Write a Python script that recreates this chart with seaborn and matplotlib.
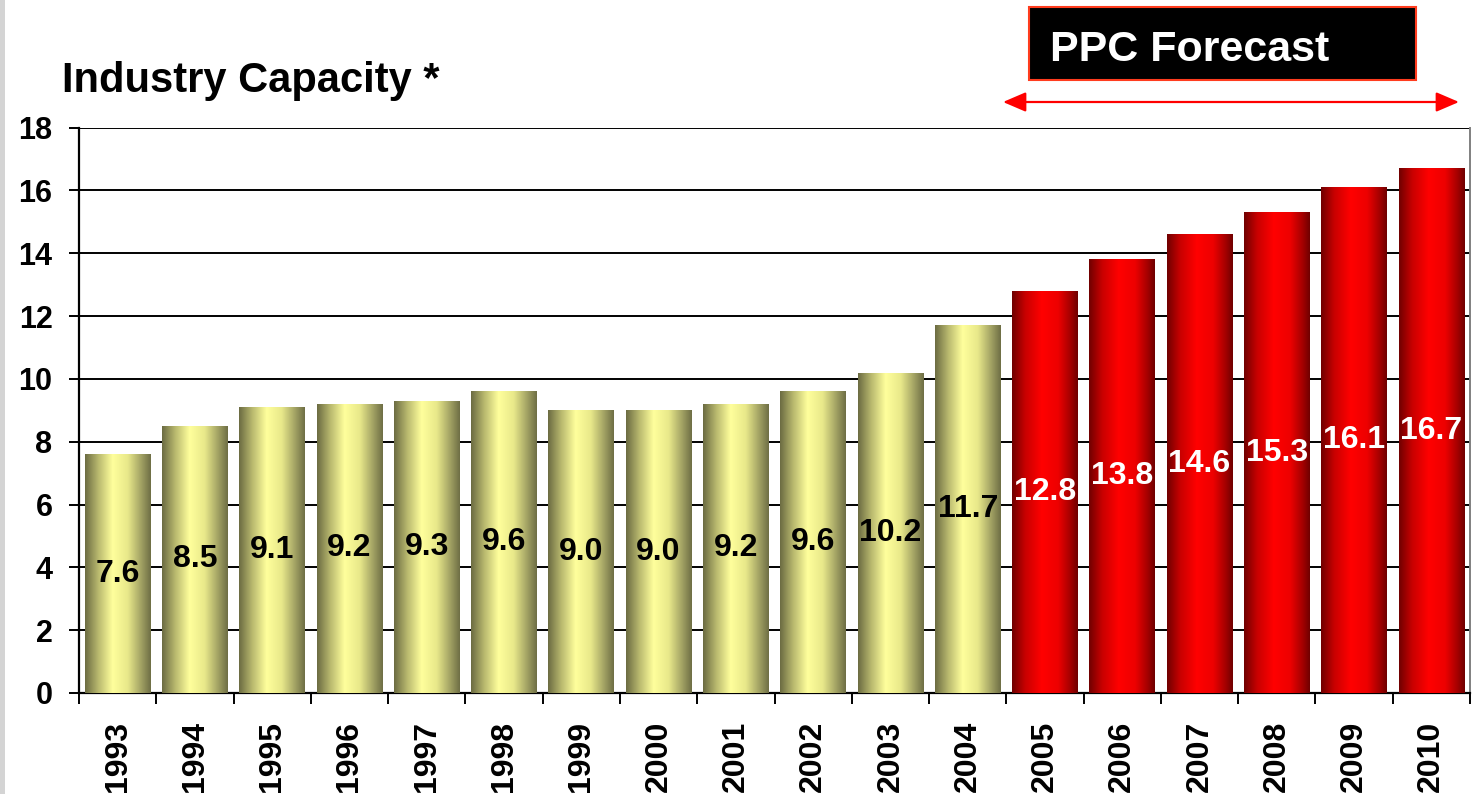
import matplotlib.pyplot as plt
import matplotlib.patches as mpatches
from matplotlib.colors import LinearSegmentedColormap
import numpy as np
import pandas as pd
import seaborn as sns

plt.switch_backend("Agg")
sns.set_theme(style="white")
plt.rcParams["font.family"] = ["Liberation Sans", "DejaVu Sans"]
plt.rcParams["font.weight"] = "bold"
plt.rcParams["text.color"] = "black"
plt.rcParams["xtick.color"] = "black"
plt.rcParams["ytick.color"] = "black"

years = [str(y) for y in range(1993, 2011)]
capacity = [7.6, 8.5, 9.1, 9.2, 9.3, 9.6, 9.0, 9.0, 9.2, 9.6, 10.2, 11.7,
            12.8, 13.8, 14.6, 15.3, 16.1, 16.7]
period = ["Actual"] * 12 + ["Forecast"] * 6
y_ticks = [0, 2, 4, 6, 8, 10, 12, 14, 16, 18]

df = pd.DataFrame({"year": years, "capacity": capacity, "period": period})

W, H = 1482, 794
fig = plt.figure(figsize=(W / 100, H / 100), dpi=100)
ax = fig.add_axes([79 / W, 1 - 693 / H, (1470 - 79) / W, (693 - 127.5) / H])

sns.barplot(data=df, x="year", y="capacity", hue="period",
            palette={"Actual": "#e6e68a", "Forecast": "#e00000"},
            dodge=False, width=0.85, legend=False, ax=ax, zorder=3)

# cylinder-like shading across each bar
olive = LinearSegmentedColormap.from_list(
    "olive", [(0, "#6b6b42"), (0.2, "#b8b86e"), (0.42, "#ffff9c"),
              (0.65, "#e8e88a"), (0.85, "#a3a364"), (1, "#6e6e45")])
red = LinearSegmentedColormap.from_list(
    "red", [(0, "#700000"), (0.2, "#c80000"), (0.45, "#ff0000"),
            (0.7, "#ee0000"), (0.88, "#a80000"), (1, "#700000")])
grad = np.linspace(0, 1, 256).reshape(1, -1)
bars = [p for p in ax.patches if p.get_height() > 0]
bars.sort(key=lambda p: p.get_x())
for patch, per in zip(bars, period):
    x0, w, h = patch.get_x(), patch.get_width(), patch.get_height()
    im = ax.imshow(grad, cmap=olive if per == "Actual" else red, aspect="auto",
                   extent=[x0, x0 + w, 0, h], zorder=3.5)
    im.set_clip_path(patch)
    patch.set_facecolor("none")
    patch.set_edgecolor("none")

for patch, val, per in zip(bars, capacity, period):
    ax.text(patch.get_x() + patch.get_width() / 2, val / 2, f"{val:.1f}",
            ha="center", va="center", fontsize=23, fontweight="bold",
            color="black" if per == "Actual" else "white", zorder=5)

ax.set_xlim(-0.5, len(years) - 0.5)
ax.set_ylim(0, 18)
ax.set_yticks(y_ticks)
ax.yaxis.grid(True, color="black", linewidth=1.4, zorder=1)
ax.set_axisbelow(True)
ax.set_xlabel("")
ax.set_ylabel("")

for side in ["left", "bottom"]:
    ax.spines[side].set_color("black")
    ax.spines[side].set_linewidth(1.6)
ax.spines["right"].set_color("#808080")
ax.spines["right"].set_linewidth(1.4)
ax.spines["top"].set_visible(False)

ax.tick_params(axis="y", which="major", left=True, length=7, width=1.4,
               color="black", labelsize=22, pad=12)
ax.set_xticks(range(len(years)))
ax.set_xticklabels(years, rotation=90, fontsize=23, fontweight="bold")
ax.tick_params(axis="x", which="major", bottom=False, pad=14)
ax.set_xticks(np.arange(-0.5, len(years), 1), minor=True)
ax.tick_params(axis="x", which="minor", bottom=True, length=8, width=1.4,
               color="black")
for lbl in ax.get_yticklabels():
    lbl.set_fontweight("bold")

fig.text(62 / W, 1 - 92 / H, "Industry Capacity *", fontsize=30,
         fontweight="bold", ha="left", va="baseline")

# forecast banner
fig.patches.append(mpatches.Rectangle(
    (1029 / W, 1 - 80 / H), (1416 - 1029) / W, 73 / H, transform=fig.transFigure,
    facecolor="black", edgecolor="#ff3c1e", linewidth=1.5, zorder=4))
fig.text(1050 / W, 1 - 61 / H, "PPC Forecast", fontsize=31, fontweight="bold",
         color="white", ha="left", va="baseline", zorder=5)
fig.add_artist(mpatches.FancyArrowPatch(
    (1003 / W, 1 - 102 / H), (1459 / W, 1 - 102 / H), transform=fig.transFigure,
    arrowstyle="<|-|>,head_length=14,head_width=6", color="#ff0000",
    linewidth=1.6, mutation_scale=1, shrinkA=0, shrinkB=0))

# grey strip at left edge
fig.patches.append(mpatches.Rectangle(
    (0, 0), 5 / W, 1, transform=fig.transFigure, facecolor="#d4d4d4",
    edgecolor="none"))

fig.savefig("out.png", dpi=100)
plt.close(fig)
